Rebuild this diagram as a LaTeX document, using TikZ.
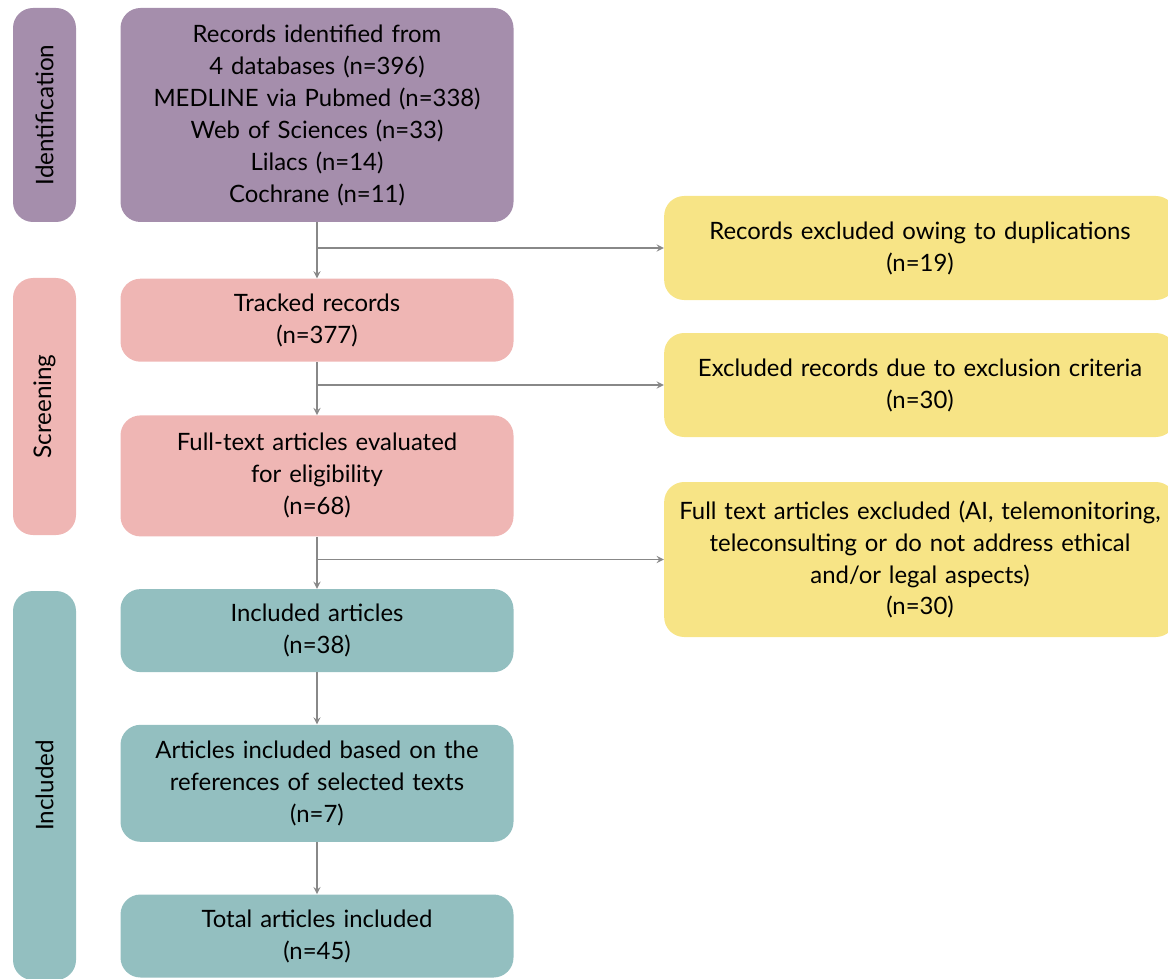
\documentclass[tikz,border=0pt]{standalone}
\usepackage{fontspec}
\setmainfont{Lato}
\usetikzlibrary{arrows}
\usetikzlibrary{positioning}
\definecolor{identcol}{RGB}{165,142,172}
\definecolor{screencol}{RGB}{239,182,180}
\definecolor{inclcol}{RGB}{147,191,192}
\definecolor{exclcol}{RGB}{247,228,134}
\definecolor{linecol}{RGB}{136,136,136}
\tikzstyle{stage} = [rectangle, rounded corners=0.4cm, minimum width=7.86cm, text centered, text width=7.6cm, fill=white, font=\fontsize{13.6}{18.2}\selectfont]
\tikzstyle{excluded} = [rectangle, rounded corners=0.4cm, minimum width=10.2cm, text centered, text width=10cm, fill=exclcol, font=\fontsize{13.6}{18.2}\selectfont]
\tikzstyle{phase} = [rectangle, rounded corners=0.4cm, minimum height=1.26cm, rotate=90, font=\fontsize{13.8}{18.2}\selectfont]
\tikzstyle{arrow} = [draw=linecol, line width=0.8pt, ->, >=stealth]

\begin{document}
\begin{tikzpicture}[node distance=1.04cm]
 \useasboundingbox (0,0) rectangle (23.36,-19.58);
 % main column
 \node (records) [stage, minimum height=4.28cm, fill=identcol] at (6.34,-2.30) {Records identified from\\4 databases (n=396)\\MEDLINE via Pubmed (n=338)\\Web of Sciences (n=33)\\Lilacs (n=14)\\Cochrane (n=11)};
 \node (tracked) [stage, minimum height=1.66cm, fill=screencol, below=1.12cm of records] {Tracked records\\(n=377)};
 \node (fulltext) [stage, minimum height=2.42cm, fill=screencol, below=1.06cm of tracked] {Full-text articles evaluated\\for eligibility\\(n=68)};
 \node (included) [stage, minimum height=1.66cm, fill=inclcol, below=of fulltext] {Included articles\\(n=38)};
 \node (references) [stage, minimum height=2.34cm, fill=inclcol, below=of included] {Articles included based on the\\references of selected texts\\(n=7)};
 \node (total) [stage, minimum height=1.66cm, fill=inclcol, below=of references] {Total articles included\\(n=45)};

 % phases
 \node (identification) [phase, minimum width=4.28cm, fill=identcol] at (0.89,-2.30) {Identification};
 \node (screening) [phase, minimum width=5.14cm, fill=screencol] at (0.89,-8.13) {Screening};
 \node (inclphase) [phase, minimum width=7.78cm, fill=inclcol] at (0.89,-15.71) {Included};

 % exclusions
 \node (duplicates) [excluded, minimum height=2.08cm] at (18.40,-4.96) {Records excluded owing to duplications\\(n=19)};
 \node (criteria) [excluded, minimum height=2.08cm] at (18.40,-7.70) {Excluded records due to exclusion criteria\\(n=30)};
 \node (notrelevant) [excluded, minimum height=3.10cm] at (18.40,-11.19) {Full text articles excluded (AI, telemonitoring,\\teleconsulting or do not address ethical\\and/or legal aspects)\\(n=30)};

 \draw [arrow] (records) -- (tracked);
 \draw [arrow] (tracked) -- (fulltext);
 \draw [arrow] (fulltext) -- (included);
 \draw [arrow] (included) -- (references);
 \draw [arrow] (references) -- (total);
 \draw [arrow] (records.south |- duplicates.west) -- (duplicates.west);
 \draw [arrow] (tracked.south |- criteria.west) -- (criteria.west);
 \draw [arrow] (fulltext.south |- notrelevant.west) -- (notrelevant.west);
\end{tikzpicture}
\end{document}
